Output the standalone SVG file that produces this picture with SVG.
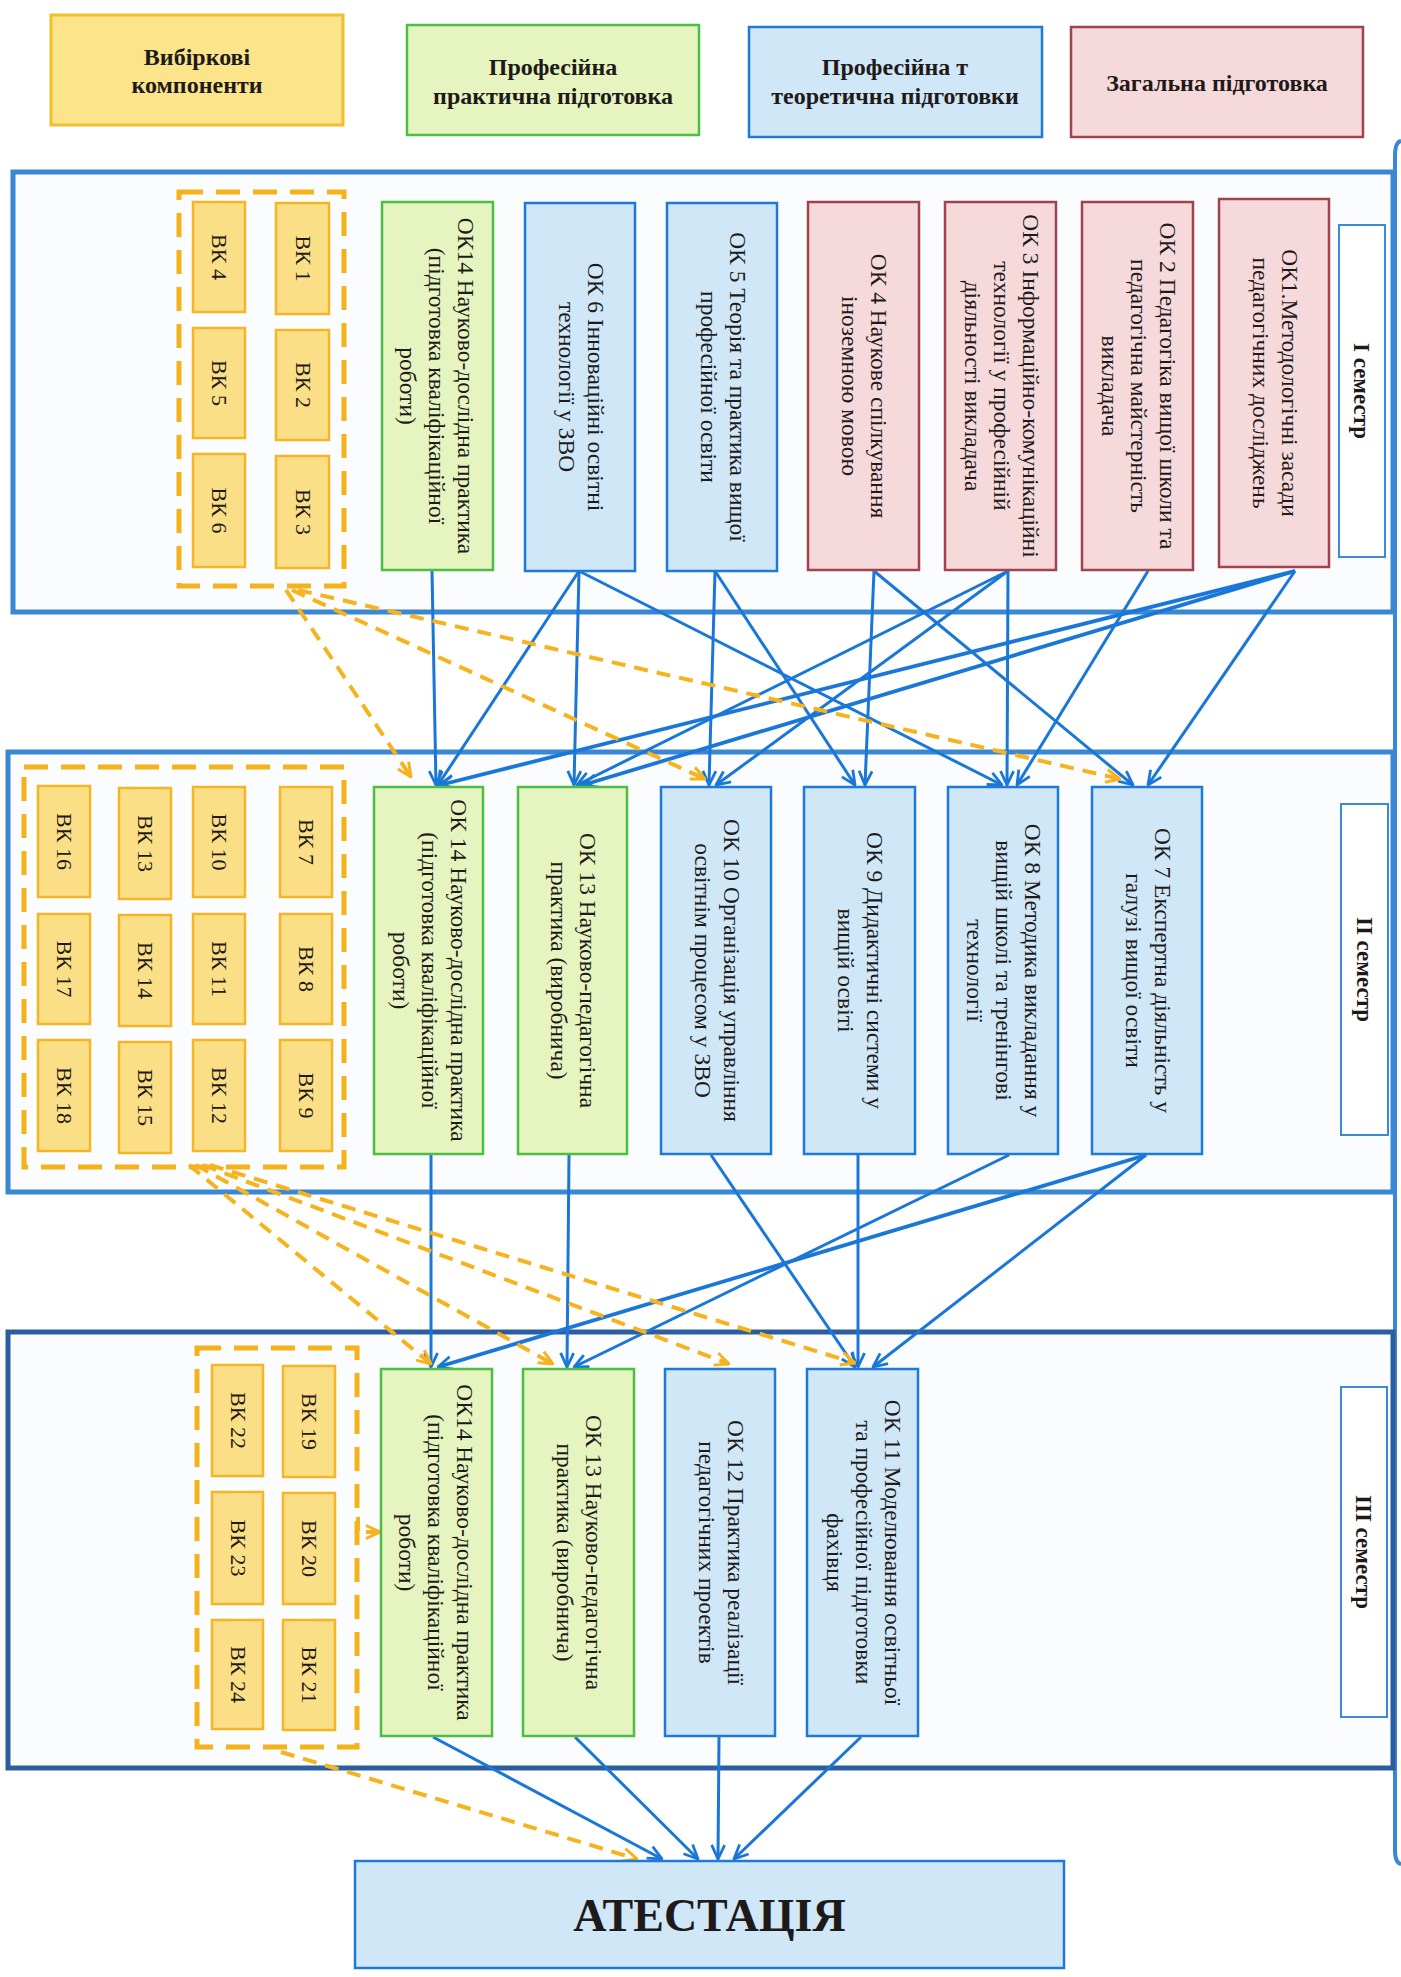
<svg xmlns="http://www.w3.org/2000/svg" width="1401" height="1977" viewBox="0 0 1401 1977">
<defs>
<style>
text{font-family:"Liberation Serif","Times New Roman",serif;fill:#1e1a1a;text-anchor:middle}
.t{font-size:23.5px}
.vkt{font-size:22px}
.semt{font-size:23px;font-weight:bold}
.lgt{font-size:24px;font-weight:bold}
.g{fill:#E6F4BF;stroke:#4DBE45;stroke-width:2.5}
.b{fill:#CFE7F7;stroke:#1D7AD6;stroke-width:2.5}
.p{fill:#F6D9DA;stroke:#A1434F;stroke-width:2.5}
.v{fill:#FBDF86;stroke:#F4B526;stroke-width:2.5}
.lbl{fill:#FFFFFF;stroke:#3C8AD6;stroke-width:2}
.dg{fill:none;stroke:#F6B21B;stroke-width:5;stroke-dasharray:24 13}
.frame{fill:#FAFCFE;stroke:#3A87D3;stroke-width:5}
.frame3{fill:#FAFCFE;stroke:#2C5E9F;stroke-width:5}
.c{fill:none;stroke:#1A77D8;stroke-width:3;marker-end:url(#ab)}
.ct{stroke-width:3.8}
.d{fill:none;stroke:#F6B31E;stroke-width:4;stroke-dasharray:14 9;marker-end:url(#ao)}
</style>
<marker id="ab" viewBox="0 0 16 16" refX="15" refY="8" markerWidth="16" markerHeight="16" markerUnits="userSpaceOnUse" orient="auto"><path d="M1,1.5 L15,8 L1,14.5" fill="none" stroke="#1A77D8" stroke-width="2.8"/></marker>
<marker id="ao" viewBox="0 0 16 16" refX="15" refY="8" markerWidth="16" markerHeight="16" markerUnits="userSpaceOnUse" orient="auto"><path d="M1,1.5 L15,8 L1,14.5" fill="none" stroke="#F6B31E" stroke-width="3"/></marker>
</defs>
<rect x="0" y="0" width="1401" height="1977" fill="#FFFFFF"/>

<!-- Legend -->
<g id="legend-vk"><rect x="51" y="15" width="292" height="110" fill="#FCE48A" stroke="#F1BE2C" stroke-width="3"/><text class="lgt" x="197" y="65">Вибіркові</text><text class="lgt" x="197" y="93">компоненти</text></g>
<g id="legend-prac"><rect x="407" y="25" width="292" height="110" class="g" stroke-width="3"/><text class="lgt" x="553" y="75">Професійна</text><text class="lgt" x="553" y="104">практична підготовка</text></g>
<g id="legend-theor"><rect x="749" y="27" width="293" height="110" class="b" stroke-width="3"/><text class="lgt" x="895" y="75">Професійна т</text><text class="lgt" x="895" y="104">теоретична підготовки</text></g>
<g id="legend-gen"><rect x="1071" y="27" width="292" height="110" class="p" stroke-width="3"/><text class="lgt" x="1217" y="91">Загальна підготовка</text></g>

<!-- right brace line -->
<path d="M1401,141 Q1395,142 1395,156 L1395,1850 Q1395,1863 1401,1864" fill="none" stroke="#3A87D3" stroke-width="4"/>

<!-- Semester frames -->
<rect class="frame" x="13" y="172" width="1380" height="440"/>
<rect class="frame" x="8" y="752" width="1385" height="440"/>
<rect class="frame3" x="8" y="1332" width="1385" height="436"/>

<!-- Connectors -->
<g id="connectors">
<!-- I -> II -->
<line class="c" x1="432" y1="571" x2="436" y2="785"/>
<line class="c" x1="579" y1="571" x2="438" y2="785"/>
<line class="c" x1="579" y1="571" x2="574" y2="785"/>
<line class="c" x1="579" y1="571" x2="1002" y2="785"/>
<line class="c" x1="715" y1="571" x2="709" y2="785"/>
<line class="c" x1="715" y1="571" x2="855" y2="785"/>
<line class="c" x1="874" y1="571" x2="865" y2="785"/>
<line class="c" x1="874" y1="571" x2="1133" y2="785"/>
<line class="c" x1="1008" y1="571" x2="577" y2="785"/>
<line class="c" x1="1008" y1="571" x2="716" y2="785"/>
<line class="c" x1="1008" y1="571" x2="1007" y2="785"/>
<line class="c" x1="1148" y1="571" x2="1017" y2="785"/>
<line class="c ct" x1="1295" y1="571" x2="440" y2="785"/>
<line class="c ct" x1="1295" y1="571" x2="583" y2="785"/>
<line class="c" x1="1295" y1="571" x2="1148" y2="785"/>
<!-- II -> III -->
<line class="c" x1="431" y1="1155" x2="431" y2="1367"/>
<line class="c" x1="569" y1="1155" x2="567" y2="1367"/>
<line class="c" x1="711" y1="1155" x2="855" y2="1367"/>
<line class="c" x1="858" y1="1155" x2="858" y2="1367"/>
<line class="c" x1="1009" y1="1155" x2="574" y2="1367"/>
<line class="c ct" x1="1146" y1="1155" x2="438" y2="1367"/>
<line class="c" x1="1146" y1="1155" x2="873" y2="1367"/>
<!-- III -> Attestation -->
<line class="c" x1="433" y1="1737" x2="662" y2="1859"/>
<line class="c" x1="575" y1="1737" x2="698" y2="1859"/>
<line class="c" x1="719" y1="1737" x2="718" y2="1859"/>
<line class="c" x1="861" y1="1737" x2="734" y2="1859"/>
<!-- dashed VK connectors -->
<line class="d" x1="286" y1="590" x2="411" y2="777"/>
<line class="d" x1="292" y1="590" x2="705" y2="779"/>
<line class="d" x1="298" y1="590" x2="1120" y2="779"/>
<line class="d" x1="189" y1="1165" x2="431" y2="1364"/>
<line class="d" x1="196" y1="1165" x2="553" y2="1364"/>
<line class="d" x1="203" y1="1165" x2="729" y2="1364"/>
<line class="d" x1="210" y1="1165" x2="855" y2="1363"/>
<line class="d" x1="281" y1="1752" x2="637" y2="1859"/>
<path class="d" d="M358,1517 L358,1532 L380,1532"/>
</g>

<!-- Semester I -->
<g id="vk-group-1"><rect class="dg" x="179" y="192" width="165" height="394"/></g>
<g id="vk1"><rect class="v" x="276" y="203" width="53" height="111"/><text class="vkt" transform="translate(302.5,258.5) rotate(90)" y="7">ВК 1</text></g>
<g id="vk2"><rect class="v" x="276" y="330" width="53" height="110"/><text class="vkt" transform="translate(302.5,385) rotate(90)" y="7">ВК 2</text></g>
<g id="vk3"><rect class="v" x="276" y="456" width="53" height="112"/><text class="vkt" transform="translate(302.5,512) rotate(90)" y="7">ВК 3</text></g>
<g id="vk4"><rect class="v" x="193" y="202" width="52" height="110"/><text class="vkt" transform="translate(219,257) rotate(90)" y="7">ВК 4</text></g>
<g id="vk5"><rect class="v" x="193" y="328" width="52" height="110"/><text class="vkt" transform="translate(219,383) rotate(90)" y="7">ВК 5</text></g>
<g id="vk6"><rect class="v" x="193" y="454" width="52" height="113"/><text class="vkt" transform="translate(219,510.5) rotate(90)" y="7">ВК 6</text></g>

<g id="ok14-1"><rect class="g" x="382" y="202" width="111" height="368"/><text class="t" transform="translate(436,386) rotate(90)"><tspan x="0" y="-22">ОК14 Науково-дослідна практика</tspan><tspan x="0" y="7">(підготовка кваліфікаційної</tspan><tspan x="0" y="36">роботи)</tspan></text></g>
<g id="ok6"><rect class="b" x="525" y="203" width="110" height="368"/><text class="t" transform="translate(580,387) rotate(90)"><tspan x="0" y="-7.5">ОК 6 Інноваційні  освітні</tspan><tspan x="0" y="21.5">технології у ЗВО</tspan></text></g>
<g id="ok5"><rect class="b" x="667" y="203" width="110" height="368"/><text class="t" transform="translate(722,387) rotate(90)"><tspan x="0" y="-7.5">ОК 5 Теорія та практика вищої</tspan><tspan x="0" y="21.5">професійної освіти</tspan></text></g>
<g id="ok4"><rect class="p" x="808" y="202" width="111" height="368"/><text class="t" transform="translate(863.5,386) rotate(90)"><tspan x="0" y="-7.5">ОК 4 Наукове спілкування</tspan><tspan x="0" y="21.5">іноземною мовою</tspan></text></g>
<g id="ok3"><rect class="p" x="945" y="202" width="111" height="368"/><text class="t" transform="translate(1000.5,386) rotate(90)"><tspan x="0" y="-22">ОК 3 Інформаційно-комунікаційні</tspan><tspan x="0" y="7">технології у професійній</tspan><tspan x="0" y="36">діяльності викладача</tspan></text></g>
<g id="ok2"><rect class="p" x="1082" y="202" width="111" height="368"/><text class="t" transform="translate(1137.5,386) rotate(90)"><tspan x="0" y="-22">ОК 2 Педагогіка вищої школи та</tspan><tspan x="0" y="7">педагогічна майстерність</tspan><tspan x="0" y="36">викладача</tspan></text></g>
<g id="ok1"><rect class="p" x="1219" y="199" width="110" height="368"/><text class="t" transform="translate(1274,383) rotate(90)"><tspan x="0" y="-7.5">ОК1.Методологічні засади</tspan><tspan x="0" y="21.5">педагогічних досліджень</tspan></text></g>
<g id="sem1"><rect class="lbl" x="1339" y="225" width="46" height="332"/><text class="semt" transform="translate(1362,391) rotate(90)" y="8">І семестр</text></g>

<!-- Semester II -->
<g id="vk-group-2"><rect class="dg" x="24" y="767" width="320" height="400"/></g>
<g id="vk7"><rect class="v" x="280" y="787" width="52" height="110"/><text class="vkt" transform="translate(306,842) rotate(90)" y="7">ВК 7</text></g>
<g id="vk8"><rect class="v" x="280" y="914" width="52" height="110"/><text class="vkt" transform="translate(306,969) rotate(90)" y="7">ВК 8</text></g>
<g id="vk9"><rect class="v" x="280" y="1040" width="52" height="111"/><text class="vkt" transform="translate(306,1095.5) rotate(90)" y="7">ВК 9</text></g>
<g id="vk10"><rect class="v" x="193" y="787" width="52" height="110"/><text class="vkt" transform="translate(219,842) rotate(90)" y="7">ВК 10</text></g>
<g id="vk11"><rect class="v" x="193" y="914" width="52" height="110"/><text class="vkt" transform="translate(219,969) rotate(90)" y="7">ВК 11</text></g>
<g id="vk12"><rect class="v" x="193" y="1040" width="52" height="111"/><text class="vkt" transform="translate(219,1095.5) rotate(90)" y="7">ВК 12</text></g>
<g id="vk13"><rect class="v" x="119" y="788" width="52" height="111"/><text class="vkt" transform="translate(145,843.5) rotate(90)" y="7">ВК 13</text></g>
<g id="vk14"><rect class="v" x="119" y="915" width="52" height="111"/><text class="vkt" transform="translate(145,970.5) rotate(90)" y="7">ВК 14</text></g>
<g id="vk15"><rect class="v" x="119" y="1042" width="52" height="111"/><text class="vkt" transform="translate(145,1097.5) rotate(90)" y="7">ВК 15</text></g>
<g id="vk16"><rect class="v" x="38" y="786" width="52" height="111"/><text class="vkt" transform="translate(64,841.5) rotate(90)" y="7">ВК 16</text></g>
<g id="vk17"><rect class="v" x="38" y="914" width="52" height="110"/><text class="vkt" transform="translate(64,969) rotate(90)" y="7">ВК 17</text></g>
<g id="vk18"><rect class="v" x="38" y="1040" width="52" height="111"/><text class="vkt" transform="translate(64,1095.5) rotate(90)" y="7">ВК 18</text></g>

<g id="ok14-2"><rect class="g" x="374" y="787" width="109" height="367"/><text class="t" transform="translate(428.5,970.5) rotate(90)"><tspan x="0" y="-22">ОК 14 Науково-дослідна практика</tspan><tspan x="0" y="7">(підготовка кваліфікаційної</tspan><tspan x="0" y="36">роботи)</tspan></text></g>
<g id="ok13-2"><rect class="g" x="518" y="787" width="109" height="367"/><text class="t" transform="translate(572.5,970.5) rotate(90)"><tspan x="0" y="-7.5">ОК 13 Науково-педагогічна</tspan><tspan x="0" y="21.5">практика (виробнича)</tspan></text></g>
<g id="ok10"><rect class="b" x="661" y="787" width="110" height="367"/><text class="t" transform="translate(716,970.5) rotate(90)"><tspan x="0" y="-7.5">ОК 10 Організація управління</tspan><tspan x="0" y="21.5">освітнім процесом у ЗВО</tspan></text></g>
<g id="ok9"><rect class="b" x="804" y="787" width="111" height="367"/><text class="t" transform="translate(859.5,970.5) rotate(90)"><tspan x="0" y="-7.5">ОК 9 Дидактичні системи у</tspan><tspan x="0" y="21.5">вищій освіті</tspan></text></g>
<g id="ok8"><rect class="b" x="948" y="787" width="110" height="367"/><text class="t" transform="translate(1003,970.5) rotate(90)"><tspan x="0" y="-22">ОК 8 Методика викладання у</tspan><tspan x="0" y="7">вищій школі та тренінгові</tspan><tspan x="0" y="36">технології</tspan></text></g>
<g id="ok7"><rect class="b" x="1092" y="787" width="110" height="367"/><text class="t" transform="translate(1147,970.5) rotate(90)"><tspan x="0" y="-7.5">ОК 7 Експертна діяльність у</tspan><tspan x="0" y="21.5">галузі вищої освіти</tspan></text></g>
<g id="sem2"><rect class="lbl" x="1341" y="804" width="47" height="331"/><text class="semt" transform="translate(1364.5,969.5) rotate(90)" y="8">ІІ семестр</text></g>

<!-- Semester III -->
<g id="vk-group-3"><rect class="dg" x="197" y="1348" width="160" height="399"/></g>
<g id="vk19"><rect class="v" x="283" y="1366" width="52" height="111"/><text class="vkt" transform="translate(309,1421.5) rotate(90)" y="7">ВК 19</text></g>
<g id="vk20"><rect class="v" x="283" y="1493" width="52" height="111"/><text class="vkt" transform="translate(309,1548.5) rotate(90)" y="7">ВК 20</text></g>
<g id="vk21"><rect class="v" x="283" y="1620" width="52" height="110"/><text class="vkt" transform="translate(309,1675) rotate(90)" y="7">ВК 21</text></g>
<g id="vk22"><rect class="v" x="212" y="1365" width="51" height="111"/><text class="vkt" transform="translate(237.5,1420.5) rotate(90)" y="7">ВК 22</text></g>
<g id="vk23"><rect class="v" x="212" y="1492" width="51" height="112"/><text class="vkt" transform="translate(237.5,1548) rotate(90)" y="7">ВК 23</text></g>
<g id="vk24"><rect class="v" x="212" y="1620" width="51" height="109"/><text class="vkt" transform="translate(237.5,1674.5) rotate(90)" y="7">ВК 24</text></g>

<g id="ok14-3"><rect class="g" x="381" y="1369" width="111" height="367"/><text class="t" transform="translate(435,1552.5) rotate(90)"><tspan x="0" y="-22">ОК14 Науково-дослідна практика</tspan><tspan x="0" y="7">(підготовка кваліфікаційної</tspan><tspan x="0" y="36">роботи)</tspan></text></g>
<g id="ok13-3"><rect class="g" x="523" y="1369" width="111" height="367"/><text class="t" transform="translate(578.5,1552.5) rotate(90)"><tspan x="0" y="-7.5">ОК 13 Науково-педагогічна</tspan><tspan x="0" y="21.5">практика (виробнича)</tspan></text></g>
<g id="ok12"><rect class="b" x="665" y="1369" width="110" height="367"/><text class="t" transform="translate(720,1552.5) rotate(90)"><tspan x="0" y="-7.5">ОК 12 Практика реалізації</tspan><tspan x="0" y="21.5">педагогічних проектів</tspan></text></g>
<g id="ok11"><rect class="b" x="807" y="1369" width="111" height="367"/><text class="t" transform="translate(862.5,1552.5) rotate(90)"><tspan x="0" y="-22">ОК 11 Моделювання освітньої</tspan><tspan x="0" y="7">та професійної підготовки</tspan><tspan x="0" y="36">фахівця</tspan></text></g>
<g id="sem3"><rect class="lbl" x="1341" y="1387" width="46" height="330"/><text class="semt" transform="translate(1364,1552) rotate(90)" y="8">ІІІ семестр</text></g>

<!-- Attestation -->
<g id="attestation"><rect class="b" x="355" y="1861" width="709" height="107"/><text x="709.5" y="1931" font-size="46" font-weight="bold">АТЕСТАЦІЯ</text></g>
</svg>
